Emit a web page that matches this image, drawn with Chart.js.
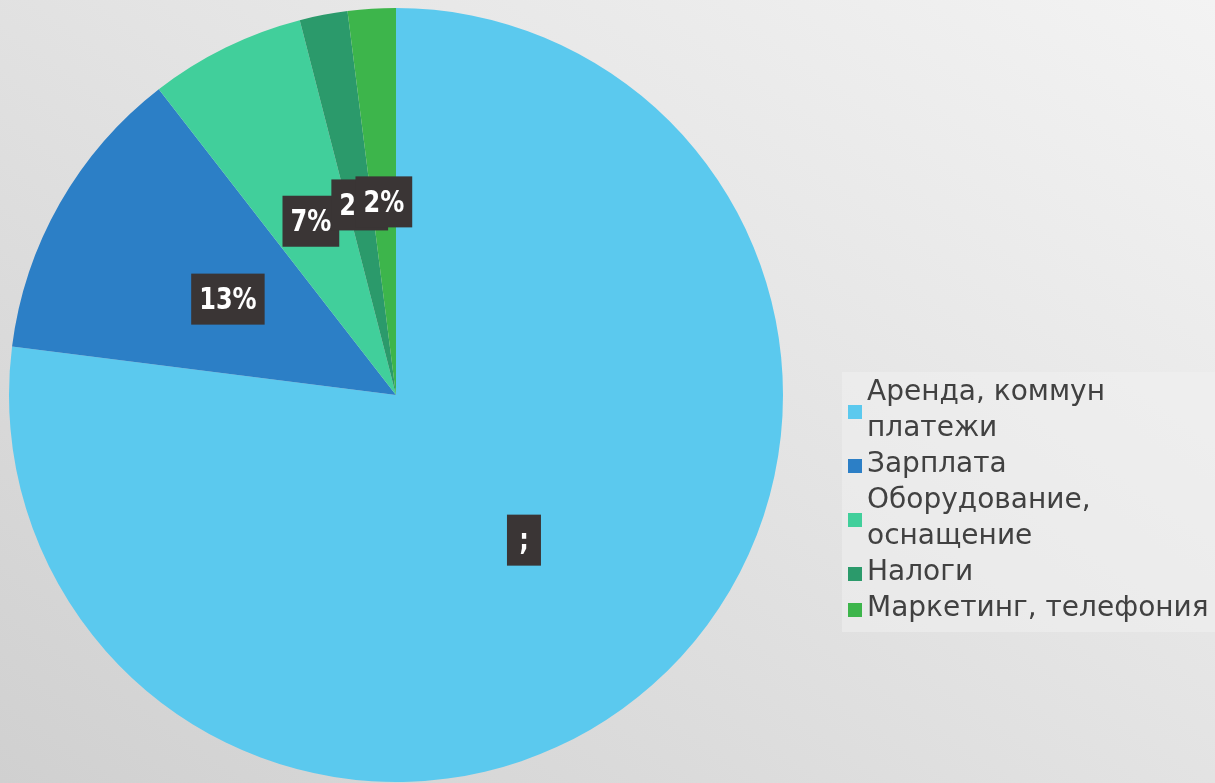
<!DOCTYPE html>
<html>
<head>
<meta charset="utf-8">
<script src="https://cdn.jsdelivr.net/npm/chart.js@4"></script>
<style>
  html, body { margin: 0; padding: 0; }
  body {
    width: 1215px; height: 783px; overflow: hidden;
    background: linear-gradient(215deg, #f3f3f3 0%, #e4e4e4 45%, #d0d0d0 100%);
  }
  #wrap { position: relative; width: 1215px; height: 783px; }
</style>
</head>
<body>
<div id="wrap"><canvas id="myChart" width="1215" height="783"></canvas></div>
<script>
var categories = [['Аренда, коммун', 'платежи'], 'Зарплата', ['Оборудование,', 'оснащение'], 'Налоги', 'Маркетинг, телефония'];
var shares = [77, 12.5, 6.5, 2, 2];
var pointLabels = [';', '13%', '7%', '2%', '2%'];
var colors = ['#5bc9ee', '#2c7fc6', '#41cf9b', '#2b9a6b', '#3db54b'];

// dark boxes with white text at the middle of each slice
var sliceLabels = {
  id: 'sliceLabels',
  afterDatasetsDraw: function(chart) {
    var ctx = chart.ctx;
    var meta = chart.getDatasetMeta(0);
    var sx = 0.8; // narrow the bold face a bit
    ctx.save();
    ctx.font = 'bold 30px "DejaVu Sans"';
    ctx.textAlign = 'center';
    ctx.textBaseline = 'middle';
    meta.data.forEach(function(arc, i) {
      var p = arc.getCenterPoint();
      var txt = pointLabels[i];
      var w = Math.max(ctx.measureText(txt).width * sx + 16, 34);
      var h = 51;
      ctx.fillStyle = '#3a3535';
      ctx.fillRect(p.x - w / 2, p.y - h / 2, w, h);
      ctx.save();
      ctx.translate(p.x, p.y + 2);
      ctx.scale(sx, 1);
      ctx.fillStyle = '#ffffff';
      ctx.fillText(txt, 0, 0);
      ctx.restore();
    });
    ctx.restore();
  }
};

// legend on the right, with wrapped names
var sideLegend = {
  id: 'sideLegend',
  afterDraw: function(chart) {
    var ctx = chart.ctx;
    ctx.save();
    ctx.fillStyle = 'rgba(240,240,240,0.55)';
    ctx.fillRect(842, 372, 373, 260);
    ctx.font = '28px "DejaVu Sans"';
    ctx.textBaseline = 'middle';
    ctx.textAlign = 'left';
    var y = 393;
    var step = 36;
    chart.data.labels.forEach(function(lbl, i) {
      var lines = Array.isArray(lbl) ? lbl : [lbl];
      var mid = y + (lines.length - 1) * step / 2;
      ctx.fillStyle = chart.data.datasets[0].backgroundColor[i];
      ctx.fillRect(848, mid - 6, 14, 14);
      ctx.fillStyle = '#414141';
      lines.forEach(function(t, k) {
        ctx.fillText(t, 867, y + k * step);
      });
      y += lines.length * step;
    });
    ctx.restore();
  }
};

var ctx = document.getElementById('myChart').getContext('2d');
var myChart = new Chart(ctx, {
  type: 'pie',
  data: {
    labels: categories,
    datasets: [{
      data: shares,
      backgroundColor: colors,
      borderWidth: 0
    }]
  },
  options: {
    responsive: false,
    animation: false,
    layout: { padding: { left: 9, right: 432, top: 8, bottom: 1 } },
    plugins: {
      legend: { display: false },
      tooltip: { enabled: false }
    }
  },
  plugins: [sliceLabels, sideLegend]
});
</script>
</body>
</html>
